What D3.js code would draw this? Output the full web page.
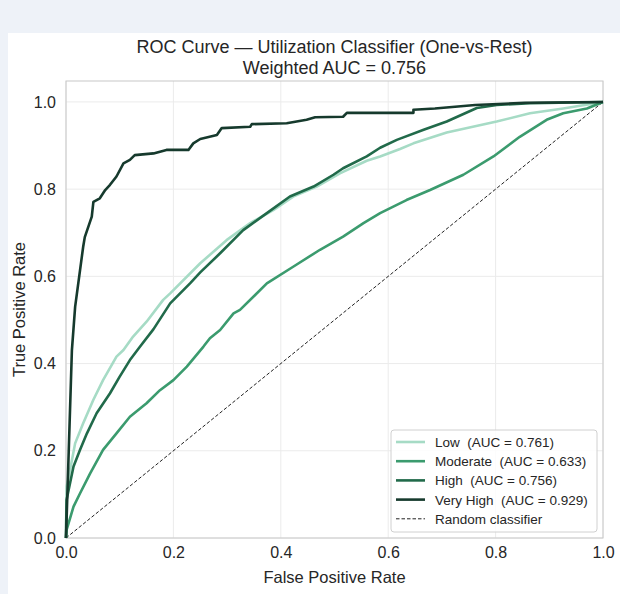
<!DOCTYPE html>
<html>
<head>
<meta charset="utf-8">
<script src="https://cdn.jsdelivr.net/npm/d3@7"></script>
<style>
  body { margin: 0; background: #eef2f8; }
  svg { display: block; font-family: "Liberation Sans", Arial, sans-serif; }
  text { white-space: pre; }
</style>
</head>
<body>
<svg width="620" height="594"></svg>
<script>
// ROC points, [fpr, tpr]
var lowPts = [[0,0],[0.001,0.118],[0.004,0.133],[0.017,0.217],[0.032,0.263],[0.051,0.317],[0.069,0.362],
  [0.094,0.416],[0.107,0.431],[0.125,0.462],[0.15,0.496],[0.181,0.546],[0.194,0.561],[0.25,0.63],[0.299,0.683],
  [0.343,0.722],[0.386,0.752],[0.423,0.783],[0.467,0.806],[0.51,0.836],[0.56,0.865],[0.585,0.875],[0.622,0.892],
  [0.647,0.905],[0.709,0.93],[0.802,0.955],[0.864,0.974],[0.926,0.985],[1,1]];
var moderatePts = [[0,0],[0.001,0.018],[0.014,0.072],[0.026,0.102],[0.045,0.148],[0.069,0.202],[0.094,0.24],
  [0.119,0.278],[0.15,0.309],[0.175,0.339],[0.2,0.362],[0.225,0.393],[0.256,0.439],[0.268,0.458],[0.287,0.477],
  [0.312,0.515],[0.324,0.523],[0.374,0.584],[0.423,0.622],[0.473,0.661],[0.516,0.691],[0.554,0.722],[0.585,0.745],
  [0.634,0.775],[0.678,0.798],[0.74,0.833],[0.796,0.875],[0.845,0.92],[0.895,0.959],[0.926,0.974],[0.97,0.985],[1,1]];
var highPts = [[0,0],[0.001,0.087],[0.014,0.164],[0.026,0.202],[0.039,0.24],[0.057,0.286],[0.082,0.332],
  [0.1,0.37],[0.119,0.408],[0.138,0.439],[0.163,0.479],[0.194,0.538],[0.231,0.584],[0.25,0.609],[0.287,0.653],
  [0.33,0.706],[0.374,0.745],[0.417,0.783],[0.461,0.806],[0.498,0.833],[0.516,0.848],[0.56,0.875],[0.585,0.895],
  [0.616,0.913],[0.666,0.936],[0.709,0.955],[0.765,0.986],[0.802,0.993],[0.864,0.997],[1,1]];
var veryHighPts = [[0,0],[0.011,0.431],[0.017,0.53],[0.032,0.668],[0.035,0.69],[0.048,0.737],[0.051,0.771],
  [0.063,0.779],[0.073,0.798],[0.082,0.81],[0.094,0.829],[0.107,0.859],[0.119,0.867],[0.128,0.878],[0.163,0.882],
  [0.187,0.89],[0.228,0.89],[0.237,0.905],[0.25,0.915],[0.281,0.924],[0.29,0.94],[0.343,0.943],[0.346,0.949],
  [0.411,0.951],[0.448,0.959],[0.464,0.965],[0.516,0.966],[0.523,0.975],[0.647,0.975],[0.647,0.982],
  [0.687,0.985],[0.762,0.993],[0.855,0.998],[1,1]];

var seriesNames = ["Low", "Moderate", "High", "Very High"];
var seriesAuc = ["0.761", "0.633", "0.756", "0.929"];
var seriesColors = ["#a6dbc5", "#3b9b6e", "#216a4a", "#163a2d"];
var xTicks = [0, 0.2, 0.4, 0.6, 0.8, 1.0];
var yTicks = [0, 0.2, 0.4, 0.6, 0.8, 1.0];

var svg = d3.select("svg");

// white card
svg.append("rect").attr("x", 8).attr("y", 33).attr("width", 612).attr("height", 561).attr("fill", "#fff");

var pLeft = 66, pRight = 603, pTop = 81, pBottom = 538;
var x = d3.scaleLinear().domain([0, 1]).range([pLeft, pRight]);
var y = d3.scaleLinear().domain([0, 1.048]).range([pBottom, pTop]);

// grid
svg.append("g").selectAll("line").data(xTicks).enter().append("line")
  .attr("x1", d => x(d)).attr("x2", d => x(d)).attr("y1", pTop).attr("y2", pBottom)
  .attr("stroke", "#ebebeb").attr("stroke-width", 1);
svg.append("g").selectAll("line").data(yTicks).enter().append("line")
  .attr("y1", d => y(d)).attr("y2", d => y(d)).attr("x1", pLeft).attr("x2", pRight)
  .attr("stroke", "#ebebeb").attr("stroke-width", 1);

// axes (labels only, seaborn whitegrid has no tick marks)
var xAxis = svg.append("g").attr("transform", "translate(0," + pBottom + ")")
  .call(d3.axisBottom(x).tickValues(xTicks).tickFormat(d3.format(".1f")).tickSize(0).tickPadding(9));
var yAxis = svg.append("g").attr("transform", "translate(" + pLeft + ",0)")
  .call(d3.axisLeft(y).tickValues(yTicks).tickFormat(d3.format(".1f")).tickSize(0).tickPadding(10));
[xAxis, yAxis].forEach(function (a) {
  a.select(".domain").remove();
  a.selectAll("text").attr("font-size", 16).attr("fill", "#262626")
    .attr("font-family", "'Liberation Sans', Arial, sans-serif");
});

// spines
svg.append("rect").attr("x", pLeft).attr("y", pTop).attr("width", pRight - pLeft).attr("height", pBottom - pTop)
  .attr("fill", "none").attr("stroke", "#c8c8c8").attr("stroke-width", 1);

// random classifier
svg.append("line").attr("x1", x(0)).attr("y1", y(0)).attr("x2", x(1)).attr("y2", y(1))
  .attr("stroke", "#222").attr("stroke-width", 1).attr("stroke-dasharray", "3.5,2");

// ROC curves
var line = d3.line().x(d => x(d[0])).y(d => y(d[1]));
var allPts = [lowPts, moderatePts, highPts, veryHighPts];
allPts.forEach(function (pts, i) {
  svg.append("path").datum(pts).attr("d", line)
    .attr("fill", "none").attr("stroke", seriesColors[i]).attr("stroke-width", 2.6)
    .attr("stroke-linejoin", "round");
});

// titles
svg.append("text").attr("x", (pLeft + pRight) / 2).attr("y", 53).attr("text-anchor", "middle")
  .attr("font-size", 18).attr("fill", "#262626").text("ROC Curve \u2014 Utilization Classifier (One-vs-Rest)");
svg.append("text").attr("x", (pLeft + pRight) / 2).attr("y", 74).attr("text-anchor", "middle")
  .attr("font-size", 18).attr("fill", "#262626").text("Weighted AUC = 0.756");
svg.append("text").attr("x", (pLeft + pRight) / 2).attr("y", 583).attr("text-anchor", "middle")
  .attr("font-size", 16.5).attr("fill", "#262626").text("False Positive Rate");
svg.append("text").attr("transform", "translate(25," + ((pTop + pBottom) / 2) + ") rotate(-90)")
  .attr("text-anchor", "middle").attr("font-size", 16.5).attr("fill", "#262626").text("True Positive Rate");

// legend
var lg = svg.append("g").attr("transform", "translate(391,430)");
lg.append("rect").attr("width", 206).attr("height", 102).attr("rx", 3)
  .attr("fill", "#fff").attr("fill-opacity", 0.85).attr("stroke", "#d0d0d0");
var legendItems = seriesNames.map(function (n, i) {
  return { label: n + "  (AUC = " + seriesAuc[i] + ")", color: seriesColors[i], dash: null, w: 2.6 };
});
legendItems.push({ label: "Random classifier", color: "#222", dash: "3.5,2", w: 1 });
var item = lg.selectAll("g.item").data(legendItems).enter().append("g")
  .attr("transform", (d, i) => "translate(0," + (12 + i * 19.2) + ")");
item.append("line").attr("x1", 5).attr("x2", 34).attr("stroke", d => d.color)
  .attr("stroke-width", d => d.w).attr("stroke-dasharray", d => d.dash);
item.append("text").attr("x", 44).attr("y", 5).attr("font-size", 13.5).attr("fill", "#262626")
  .text(d => d.label);
</script>
</body>
</html>
